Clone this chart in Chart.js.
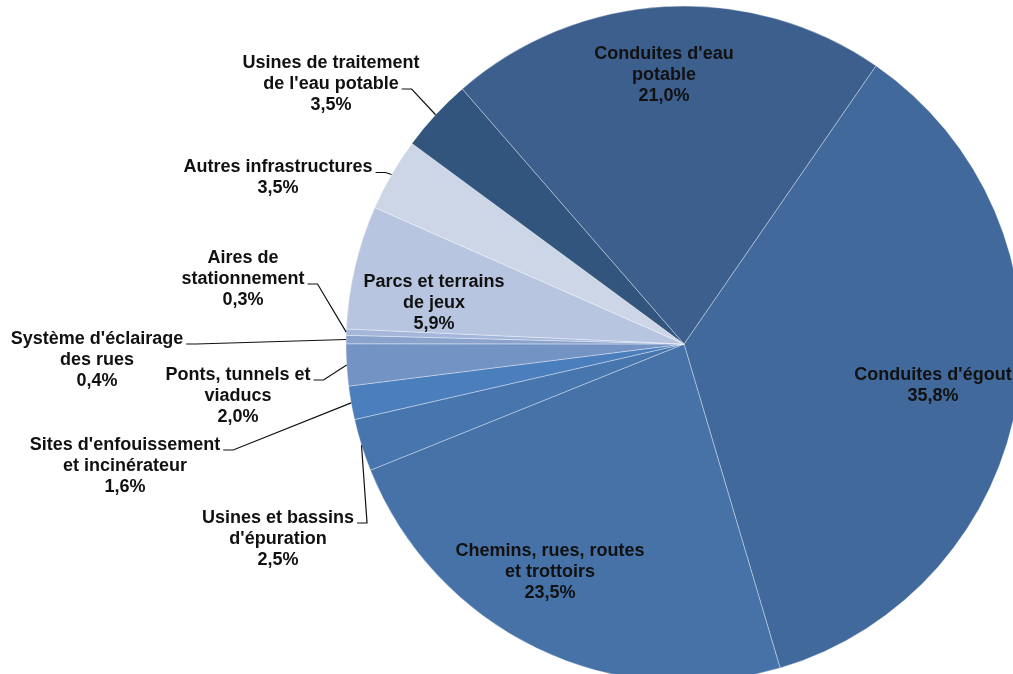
<!DOCTYPE html>
<html>
<head>
<meta charset="utf-8">
<script src="https://cdn.jsdelivr.net/npm/chart.js@4.4.1/dist/chart.umd.min.js"></script>
<style>
  body { margin: 0; background: #fff; }
  #wrap { width: 1013px; height: 674px; overflow: hidden; position: relative; }
</style>
</head>
<body>
<div id="wrap"><canvas id="pieChart" width="1100" height="700"></canvas></div>
<script>
// Categories (label lines) in drawing order, clockwise from the start angle
const categories = [
    ["Conduites d'égout"],
    ['Chemins, rues, routes', 'et trottoirs'],
    ['Usines et bassins', "d'épuration"],
    ["Sites d'enfouissement", 'et incinérateur'],
    ['Ponts, tunnels et', 'viaducs'],
    ["Système d'éclairage", 'des rues'],
    ['Aires de', 'stationnement'],
    ['Parcs et terrains', 'de jeux'],
    ['Autres infrastructures'],
    ['Usines de traitement', "de l'eau potable"],
    ["Conduites d'eau", 'potable']
];
const shares = [35.8, 23.5, 2.5, 1.6, 2.0, 0.4, 0.3, 5.9, 3.5, 3.5, 21.0];
const sliceColors = [
    '#41699b', '#4672a8', '#4775ad', '#4b7ebd', '#7393c4', '#8aa3cd',
    '#a4b6d9', '#b8c5e0', '#cdd6e7', '#32557e', '#3c5f8e'
];

// Label placement: text block centre relative to the pie centre, and for the
// outside labels the line that carries the leader to the slice.
const labelPlacement = [
    { dx: 249, dy: 42 },
    { dx: -134, dy: 228 },
    { dx: -406, dy: 195, leadLine: 0 },
    { dx: -559, dy: 122, leadLine: 0 },
    { dx: -446, dy: 52, leadLine: 0 },
    { dx: -587, dy: 16, leadLine: 0 },
    { dx: -441, dy: -65, leadLine: 1 },
    { dx: -250, dy: -41 },
    { dx: -406, dy: -166, leadLine: 0 },
    { dx: -353, dy: -260, leadLine: 1 },
    { dx: -20, dy: -269 }
];

const fmt = v => v.toFixed(1).replace('.', ',') + '%';
const lineH = 21;

const pieLabels = {
    id: 'pieLabels',
    afterDatasetsDraw(chart) {
        const ctx = chart.ctx;
        const arcs = chart.getDatasetMeta(0).data;
        ctx.save();
        ctx.font = 'bold 18px "Liberation Sans", Arial, sans-serif';
        ctx.fillStyle = '#111';
        ctx.strokeStyle = '#111';
        ctx.lineWidth = 1.2;
        ctx.textAlign = 'center';
        ctx.textBaseline = 'middle';
        arcs.forEach((arc, i) => {
            const lines = categories[i].concat([fmt(shares[i])]);
            const p = labelPlacement[i];
            const mid = (arc.startAngle + arc.endAngle) / 2;
            const bx = arc.x + p.dx;
            const by = arc.y + p.dy;
            const top = by - (lines.length - 1) * lineH / 2;
            lines.forEach((t, k) => ctx.fillText(t, bx, top + k * lineH));
            if (p.leadLine !== undefined) {
                const ly = top + p.leadLine * lineH + 5;
                const tx = bx + ctx.measureText(lines[p.leadLine]).width / 2 + 3;
                const ex = arc.x + Math.cos(mid) * arc.outerRadius;
                const ey = arc.y + Math.sin(mid) * arc.outerRadius;
                ctx.beginPath();
                ctx.moveTo(tx, ly);
                ctx.lineTo(tx + 10, ly);
                ctx.lineTo(ex, ey);
                ctx.stroke();
            }
        });
        ctx.restore();
    }
};

new Chart(document.getElementById('pieChart').getContext('2d'), {
    type: 'pie',
    data: {
        labels: categories.map(c => c.join(' ')),
        datasets: [{
            data: shares,
            backgroundColor: sliceColors,
            borderColor: 'rgba(255,255,255,0.35)',
            borderWidth: 1
        }]
    },
    options: {
        responsive: false,
        animation: false,
        rotation: 34.6,
        radius: 338,
        layout: {
            padding: { left: 340, right: 72, top: 4, bottom: 16 }
        },
        plugins: {
            legend: { display: false },
            tooltip: { enabled: false }
        }
    },
    plugins: [pieLabels]
});
</script>
</body>
</html>
